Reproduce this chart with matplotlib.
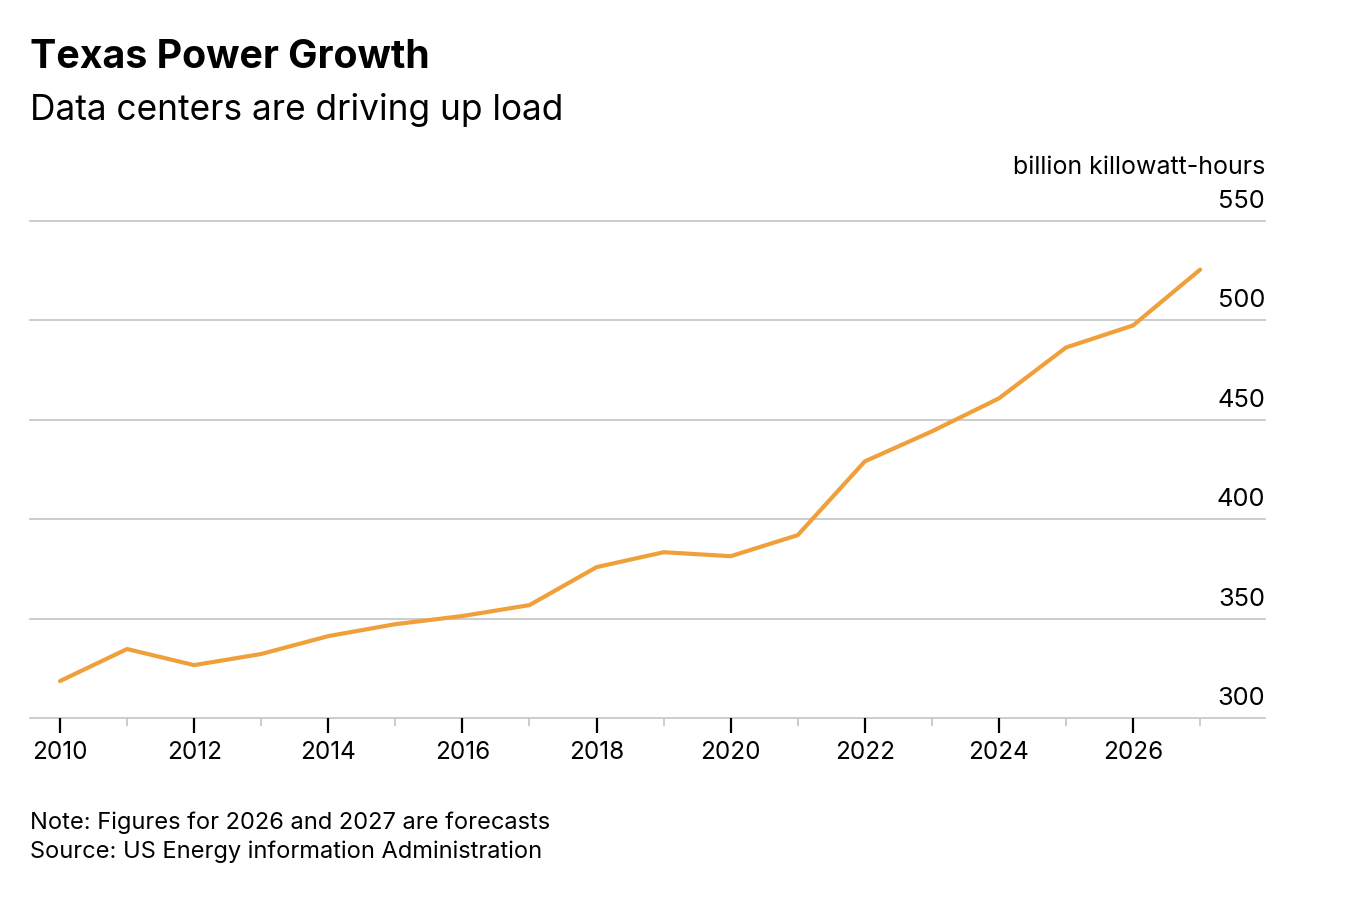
import numpy as np
import matplotlib.pyplot as plt
from matplotlib.ticker import MultipleLocator
import matplotlib.transforms as mtransforms

plt.rcParams['font.family'] = ['Inter', 'DejaVu Sans']

# values (billion kWh)
years = [2010, 2011, 2012, 2013, 2014, 2015, 2016, 2017, 2018,
         2019, 2020, 2021, 2022, 2023, 2024, 2025, 2026, 2027]
load = [318.6, 334.7, 326.6, 332.2, 341.2, 347.2, 351.3, 356.8, 375.9,
        383.4, 381.4, 392.0, 429.1, 444.2, 460.8, 486.4, 497.5, 525.6]
yticks = [300, 350, 400, 450, 500, 550]
xticks = [2010, 2012, 2014, 2016, 2018, 2020, 2022, 2024, 2026]

fig = plt.figure(figsize=(13.46, 9.06), dpi=100)
ax = fig.add_axes([0.0223, 0.2075, 0.9175, 0.5485])

ax.plot(years, load, color='#F0A03A', lw=3.0, solid_capstyle='round', zorder=3)

ax.set_xlim(2009.553, 2027.966)
ax.set_ylim(300, 550)

# horizontal gridlines, labels sit just above the line at the right end
lab_trans = mtransforms.blended_transform_factory(ax.transAxes, ax.transData) + \
    mtransforms.ScaledTranslation(0, 8 / 100, fig.dpi_scale_trans)
for v in yticks:
    ax.axhline(v, color='#c8c8c8', lw=1.3, zorder=1, clip_on=False)
    ax.text(1.0, v, str(v), transform=lab_trans, ha='right', va='bottom',
            fontsize=18.3, color='black')

for s in ax.spines.values():
    s.set_visible(False)
ax.set_yticks([])
ax.set_xticks(xticks)
ax.set_xticklabels([str(x) for x in xticks], fontsize=17.5)
ax.xaxis.set_minor_locator(MultipleLocator(1))
ax.tick_params(axis='x', which='major', length=11, width=1.6, color='black', pad=5.5)
ax.tick_params(axis='x', which='minor', length=6, width=1.3, color='#c8c8c8')

fig.text(1265 / 1346, 1 - 167 / 906, 'billion killowatt-hours', ha='right', va='center', fontsize=18)

fig.text(30 / 1346, 1 - 57 / 906, 'Texas Power Growth', ha='left', va='center',
         fontsize=28.3, fontweight='bold')
fig.text(30 / 1346, 1 - 110 / 906, 'Data centers are driving up load', ha='left', va='center',
         fontsize=25.4)
fig.text(30 / 1346, 1 - 823 / 906, 'Note: Figures for 2026 and 2027 are forecasts', ha='left',
         va='center', fontsize=17)
fig.text(30 / 1346, 1 - 852 / 906, 'Source: US Energy information Administration', ha='left',
         va='center', fontsize=17)

fig.savefig('out.png', dpi=100)
